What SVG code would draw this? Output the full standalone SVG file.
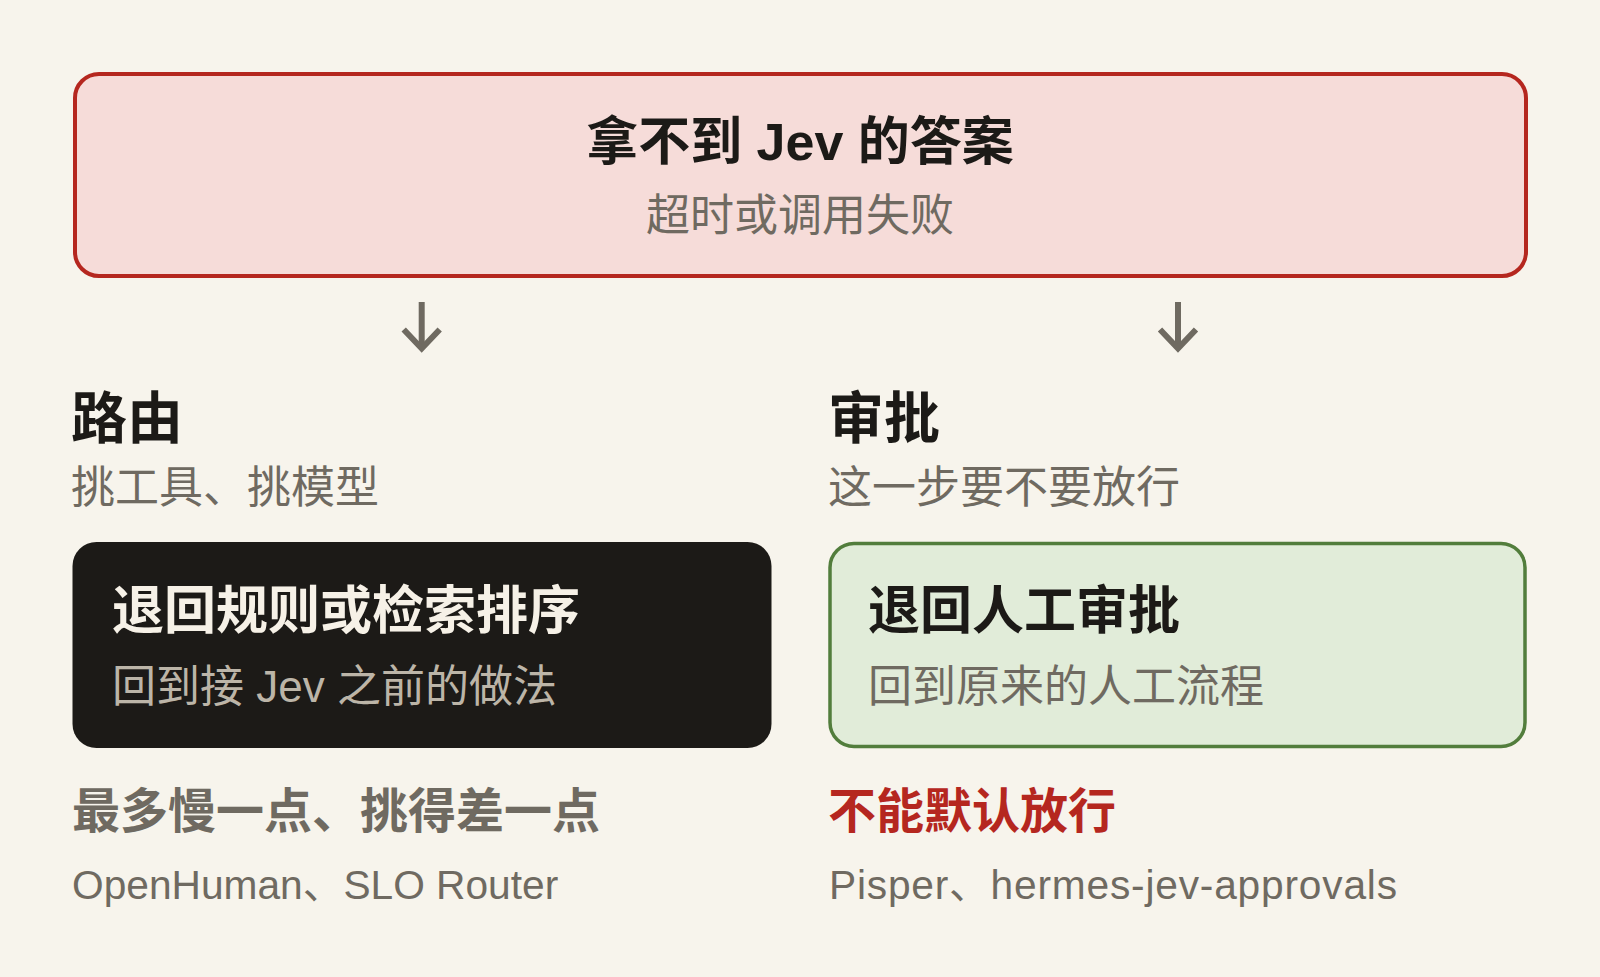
<svg xmlns="http://www.w3.org/2000/svg" width="1600" height="977" viewBox="0 0 1600 977">
  <style>
    text { font-family: "Liberation Sans", "Noto Sans CJK SC", sans-serif; }
    .bold { font-weight: 700; }
    .ink { fill: #1c1a17; }
    .muted { fill: #6f6a61; }
    .alert { fill: #b5271f; }
    .light { fill: #f6f1e7; }
    .soft { fill: #bcb5a8; }
    .t48 { font-size: 48px; }
    .t44 { font-size: 44px; }
    .t52 { font-size: 52px; }
    .t56 { font-size: 56px; }
    .t40 { font-size: 40.7px; }
    .conn { stroke: #6f6a61; stroke-width: 6; fill: none; stroke-linecap: butt; stroke-linejoin: miter; }
  </style>
  <defs>
    <marker id="chevron" markerUnits="userSpaceOnUse" viewBox="-25 -25 30 50" refX="0" refY="0" markerWidth="30" markerHeight="50" orient="auto" overflow="visible">
      <path d="M -19 -18 L 0 0 L -19 18" fill="none" stroke="#6f6a61" stroke-width="6" stroke-linejoin="miter"/>
    </marker>
  </defs>
  <rect x="0" y="0" width="1600" height="977" fill="#f7f4ec"/>

  <g id="node-no-answer">
    <rect x="75" y="74" width="1451" height="202" rx="24" ry="24" fill="#f6dcd9" stroke="#b5271f" stroke-width="4"/>
    <text class="bold ink t52" x="800" y="160" text-anchor="middle">拿不到 Jev 的答案</text>
    <text class="muted t44" x="800" y="231" text-anchor="middle">超时或调用失败</text>
  </g>

  <g id="connectors">
    <path class="conn" d="M 421.7 302 L 421.7 348.5" marker-end="url(#chevron)"/>
    <path class="conn" d="M 1178 302 L 1178 348.5" marker-end="url(#chevron)"/>
  </g>

  <g id="node-route">
    <text class="bold ink t56" x="71" y="438">路由</text>
    <text class="muted t44" x="71" y="503">挑工具、挑模型</text>
  </g>

  <g id="node-approval">
    <text class="bold ink t56" x="828" y="438">审批</text>
    <text class="muted t44" x="828" y="503">这一步要不要放行</text>
  </g>

  <g id="node-route-fallback">
    <rect x="72.5" y="542" width="699" height="206" rx="24" ry="24" fill="#1c1a17"/>
    <text class="bold light t52" x="112" y="629">退回规则或检索排序</text>
    <text class="soft t44" x="112" y="702">回到接 Jev 之前的做法</text>
  </g>

  <g id="node-approval-fallback">
    <rect x="830" y="543.5" width="695" height="203" rx="24" ry="24" fill="#e1ecd9" stroke="#527d3c" stroke-width="3.5"/>
    <text class="bold ink t52" x="868" y="629">退回人工审批</text>
    <text class="muted t44" x="868" y="702">回到原来的人工流程</text>
  </g>

  <g id="node-route-note">
    <text class="bold muted t48" x="72" y="828">最多慢一点、挑得差一点</text>
    <text class="muted t40" x="72" y="899">OpenHuman、SLO Router</text>
  </g>

  <g id="node-approval-note">
    <text class="bold alert t48" x="828" y="828">不能默认放行</text>
    <text class="muted t40" x="829" y="899" textLength="568" lengthAdjust="spacing">Pisper、hermes-jev-approvals</text>
  </g>
</svg>
